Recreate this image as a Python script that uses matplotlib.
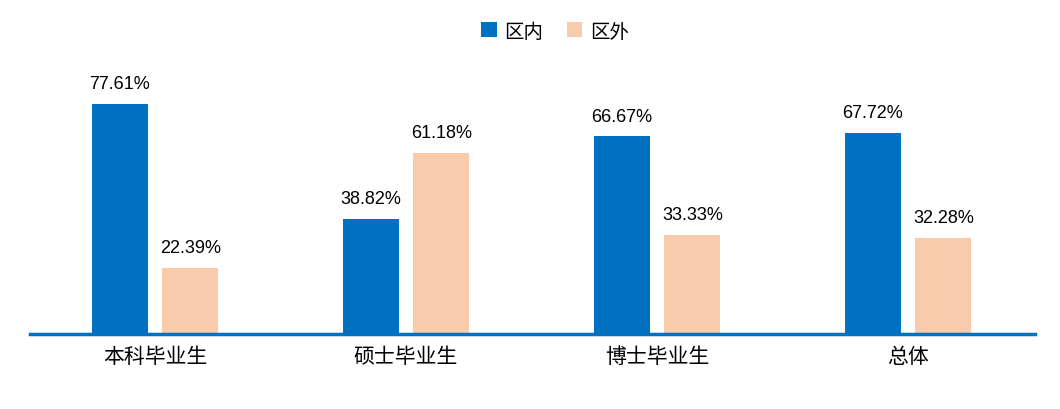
import matplotlib
matplotlib.use("Agg")
import matplotlib.pyplot as plt
import numpy as np

plt.rcParams['font.family'] = ['Noto Sans CJK SC', 'DejaVu Sans']

categories = ["本科毕业生", "硕士毕业生", "博士毕业生", "总体"]
inside = [77.61, 38.82, 66.67, 67.72]
outside = [22.39, 61.18, 33.33, 32.28]
series_names = ["区内", "区外"]

fig = plt.figure(figsize=(10.6, 4.1), dpi=100)
ax = fig.add_axes([30/1060, (410-335)/410, 1005/1060, 275/410])
x = np.arange(len(categories))
w = 0.223
off = 0.141
b1 = ax.bar(x - off, inside, w, color="#0070C0", label=series_names[0])
b2 = ax.bar(x + off, outside, w, color="#F8CBAD", label=series_names[1])
for bars, vals in ((b1, inside), (b2, outside)):
    for b, v in zip(bars, vals):
        ax.text(b.get_x() + b.get_width()/2, v + 4, f"{v:.2f}%", ha="center",
                va="bottom", fontsize=13, family=['Liberation Sans', 'DejaVu Sans'])
ax.set_xlim(-0.498, 3.506)
ax.set_ylim(0, 92.8)
ax.set_yticks([])
ax.set_xticks(x)
ax.set_xticklabels(categories, fontsize=15)
ax.tick_params(axis='x', length=0, pad=8)
for s in ["top", "right", "left"]:
    ax.spines[s].set_visible(False)
ax.spines["bottom"].set_color("#0070C0")
ax.spines["bottom"].set_linewidth(2.5)
fig.legend(loc="center", bbox_to_anchor=(555/1060, 1-32/410), ncol=2, frameon=False,
           fontsize=14, handlelength=0.8, handleheight=0.8, columnspacing=1.2, handletextpad=0.4)
fig.savefig("out.png", dpi=100)
